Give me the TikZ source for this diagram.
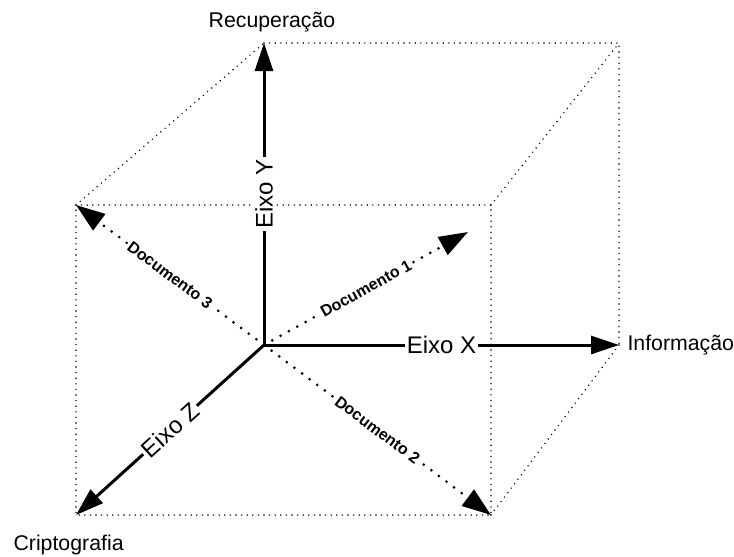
\documentclass[tikz,border=0pt]{standalone}
\usepackage{fontspec}
\setmainfont{Liberation Sans}
\usetikzlibrary{arrows.meta}
\begin{document}
\begin{tikzpicture}[x=1pt,y=-1pt,
  edge/.style={line width=1.6pt, line cap=round, dash pattern=on 0pt off 5.6pt},
  axis/.style={line width=3pt, -{Triangle[length=28pt,width=18pt]}},
  docline/.style={line width=3pt, line cap=round, dash pattern=on 0pt off 9.5pt,
    -{Triangle[length=29pt,width=20pt]}},
  axlabel/.style={fill=white, inner sep=2pt, font=\fontsize{24}{28}\selectfont},
  doclabel/.style={fill=white, inner sep=2pt, font=\fontsize{16}{19}\selectfont\bfseries},
  endlabel/.style={font=\fontsize{21.3}{25}\selectfont}]
\useasboundingbox (0,0) rectangle (734,557);
% cube corners
\coordinate (O)   at (264,345);
\coordinate (BTL) at (264,43);
\coordinate (BTR) at (619,43);
\coordinate (BBR) at (619,345);
\coordinate (FTL) at (76,205);
\coordinate (FTR) at (491,205);
\coordinate (FBL) at (76,515);
\coordinate (FBR) at (491,515);
\coordinate (D1)  at (468,232);
% dotted cube edges
\draw[edge] (FTL) -- (FTR) -- (FBR) -- (FBL) -- cycle;
\draw[edge] (BTL) -- (BTR) -- (BBR);
\draw[edge] (FTL) -- (BTL);
\draw[edge] (FTR) -- (BTR);
\draw[edge] (FBR) -- (BBR);
% document vectors
\draw[docline] (O) -- node[doclabel, sloped] {Documento 1} (D1);
\draw[docline] (O) -- node[doclabel, sloped] {Documento 2} (FBR);
\draw[docline] (O) -- node[doclabel, sloped] {Documento 3} (FTL);
% axes
\draw[axis] (O) -- node[axlabel, sloped] {Eixo Y} (BTL);
\draw[axis] (O) -- node[axlabel] {Eixo X} (BBR);
\draw[axis] (O) -- node[axlabel, sloped] {Eixo Z} (FBL);
% axis end labels
\node[endlabel] (rec) at (272,22) {Recuperação};
\node[endlabel, anchor=west] (inf) at (624,345) {Informação};
\node[endlabel, anchor=west] (cri) at (10,545) {Criptografia};
\end{tikzpicture}
\end{document}
